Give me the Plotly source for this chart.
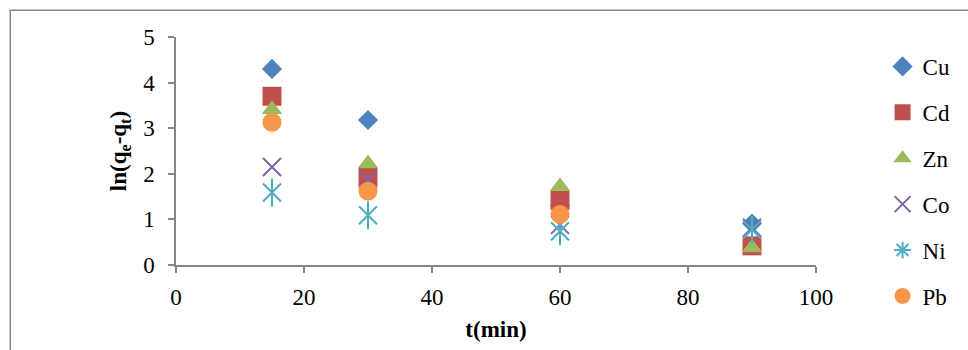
import plotly.graph_objects as go

t_min = [15, 30, 60, 90]
t_pb = [15, 30, 60]
cu = [4.30, 3.18, 1.30, 0.91]
cd = [3.70, 1.93, 1.42, 0.42]
zn = [3.41, 2.22, 1.72, 0.38]
co = [2.15, 1.88, 0.88, 0.82]
ni = [1.59, 1.09, 0.74, 0.78]
pb = [3.13, 1.62, 1.11]

x_ticks = [0, 20, 40, 60, 80, 100]
y_ticks = [0, 1, 2, 3, 4, 5]

FONT = "Liberation Serif"
AX = "#868686"

fig = go.Figure()

def add(name, x, y, color, symbol, size, lw=0, group=None, showlegend=True):
    fig.add_trace(go.Scatter(
        x=x, y=y, mode="markers", name=name,
        legendgroup=group or name, showlegend=showlegend,
        marker=dict(symbol=symbol, size=size, color=color,
                    line=dict(width=lw, color=color)),
    ))

add("Cu", t_min, cu, "#4F81BD", "diamond", 15.5)
add("Cd", t_min, cd, "#C0504D", "square", 19)
add("Zn", t_min, zn, "#9BBB59", "triangle-up", 18)
add("Co", t_min, co, "#8064A2", "x-thin-open", 18, lw=2)
# Ni: six-arm star drawn as X + vertical line
add("Ni", t_min, ni, "#4BACC6", "x-thin-open", 18, lw=2, group="Ni", showlegend=False)
add("Ni", t_min, ni, "#4BACC6", "line-ns-open", 20, lw=2, group="Ni", showlegend=False)
add("Ni", [None], [None], "#4BACC6", "asterisk-open", 14, lw=2, group="Ni")
add("Pb", t_pb, pb, "#F79646", "circle", 19)

fig.update_layout(
    width=968, height=350,
    margin=dict(l=176, r=147, t=37, b=83),
    paper_bgcolor="white", plot_bgcolor="white",
    font=dict(family=FONT, color="black", size=23),
    showlegend=True,
    legend=dict(
        x=1.104, xanchor="left", y=0.965, yanchor="top",
        font=dict(family=FONT, size=23, color="black"),
        tracegroupgap=13, bgcolor="rgba(0,0,0,0)",
        itemsizing="trace", maxheight=600,
    ),
    xaxis=dict(
        range=[0, 100], tickvals=x_ticks, showgrid=False, zeroline=False,
        showline=True, linecolor=AX, linewidth=1.5,
        ticks="outside", ticklen=6, tickcolor=AX, tickwidth=1.5,
        tickfont=dict(family=FONT, size=23, color="black"),
        ticklabelstandoff=5,
        title=dict(text="<b>t(min)</b>", font=dict(family=FONT, size=23), standoff=12),
    ),
    yaxis=dict(
        range=[0, 5], tickvals=y_ticks, showgrid=False, zeroline=False,
        showline=True, linecolor=AX, linewidth=1.5,
        ticks="outside", ticklen=6, tickcolor=AX, tickwidth=1.5,
        tickfont=dict(family=FONT, size=23, color="black"),
        ticklabelstandoff=9,
        title=dict(text="<b>ln(q<sub>e</sub>-q<sub>t</sub>)</b>",
                   font=dict(family=FONT, size=23), standoff=10),
    ),
)

fig.add_shape(type="rect", xref="paper", yref="paper",
              x0=(9 - 176) / 645, x1=(990 - 176) / 645,
              y0=-0.45, y1=1 + 27 / 230,
              line=dict(color=AX, width=1.5), fillcolor="rgba(0,0,0,0)", layer="below")

fig.write_html("out.html", config={"displayModeBar": False},
               post_script="document.body.style.margin='0';document.body.style.overflow='hidden';")
